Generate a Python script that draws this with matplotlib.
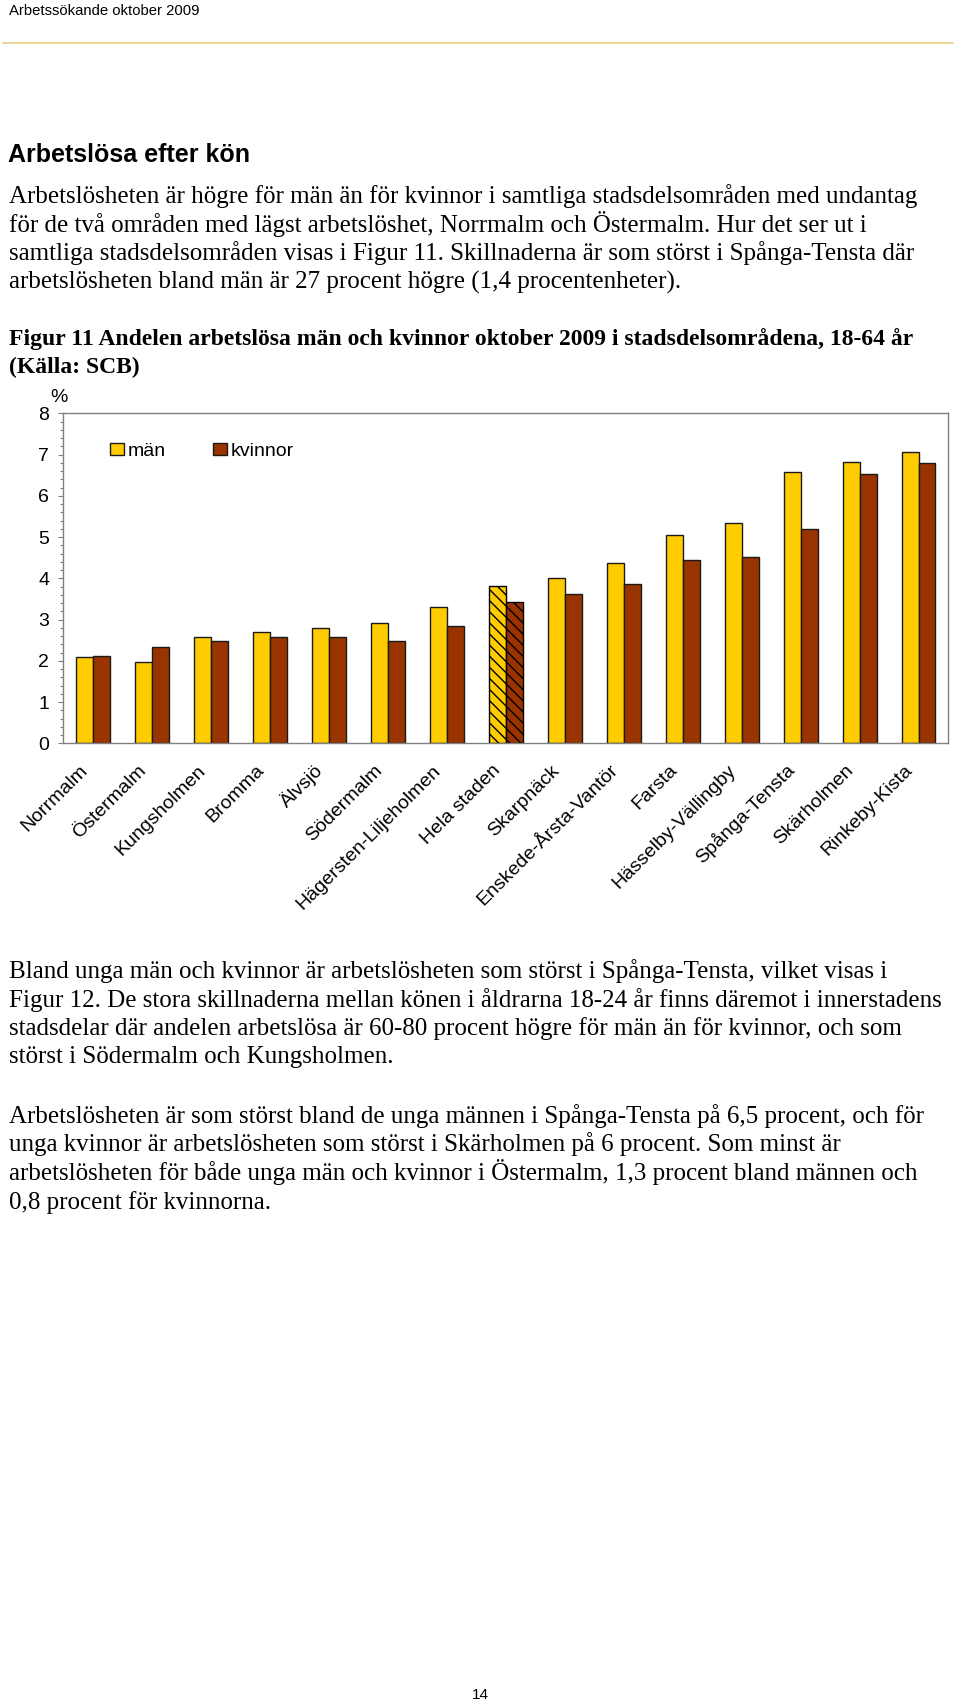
import matplotlib.pyplot as plt
import numpy as np
from matplotlib.patches import Patch
from matplotlib.ticker import MultipleLocator
from matplotlib.transforms import ScaledTranslation

# ----------------------------------------------------------------------------
# Data
# ----------------------------------------------------------------------------
omraden = ['Norrmalm', 'Östermalm', 'Kungsholmen', 'Bromma', 'Älvsjö',
           'Södermalm', 'Hägersten-Liljeholmen', 'Hela staden', 'Skarpnäck',
           'Enskede-Årsta-Vantör', 'Farsta', 'Hässelby-Vällingby',
           'Spånga-Tensta', 'Skärholmen', 'Rinkeby-Kista']
man = [2.10, 1.98, 2.58, 2.69, 2.80, 2.92, 3.31, 3.81, 4.01, 4.38,
       5.06, 5.35, 6.58, 6.83, 7.06]
kvinnor = [2.12, 2.33, 2.48, 2.58, 2.57, 2.48, 2.84, 3.42, 3.62, 3.85,
           4.45, 4.52, 5.19, 6.52, 6.80]
markerat = 'Hela staden'
y_ticks = [0, 1, 2, 3, 4, 5, 6, 7, 8]

header = 'Arbetssökande oktober 2009'
rubrik = 'Arbetslösa efter kön'
stycke1 = [
    'Arbetslösheten är högre för män än för kvinnor i samtliga stadsdelsområden med undantag',
    'för de två områden med lägst arbetslöshet, Norrmalm och Östermalm. Hur det ser ut i',
    'samtliga stadsdelsområden visas i Figur 11. Skillnaderna är som störst i Spånga-Tensta där',
    'arbetslösheten bland män är 27 procent högre (1,4 procentenheter).',
]
figurtitel = [
    'Figur 11 Andelen arbetslösa män och kvinnor oktober 2009 i stadsdelsområdena, 18-64 år',
    '(Källa: SCB)',
]
stycke2 = [
    'Bland unga män och kvinnor är arbetslösheten som störst i Spånga-Tensta, vilket visas i',
    'Figur 12. De stora skillnaderna mellan könen i åldrarna 18-24 år finns däremot i innerstadens',
    'stadsdelar där andelen arbetslösa är 60-80 procent högre för män än för kvinnor, och som',
    'störst i Södermalm och Kungsholmen.',
]
stycke3 = [
    'Arbetslösheten är som störst bland de unga männen i Spånga-Tensta på 6,5 procent, och för',
    'unga kvinnor är arbetslösheten som störst i Skärholmen på 6 procent. Som minst är',
    'arbetslösheten för både unga män och kvinnor i Östermalm, 1,3 procent bland männen och',
    '0,8 procent för kvinnorna.',
]
sidnummer = '14'

# ----------------------------------------------------------------------------
# Page
# ----------------------------------------------------------------------------
W, H = 960, 1702
SANS = 'Liberation Sans'
SERIF = 'Liberation Serif'
MAN_COL = '#FFCC00'
KV_COL = '#993300'
GRAY = '#808080'

fig = plt.figure(figsize=(W / 100, H / 100), dpi=100)


def put(x, y, s, **kw):
    # x, y in page pixels (y from top), baseline anchored
    kw.setdefault('va', 'baseline')
    fig.text(x / W, 1 - y / H, s, **kw)


def lines(x, y0, step, rows, **kw):
    for i, r in enumerate(rows):
        put(x, y0 + i * step, r, **kw)


put(9, 15, header, family=SANS, fontsize=10.7)
fig.add_artist(plt.Line2D([3 / W, 953 / W], [1 - 42.7 / H] * 2,
                          color='#E8CF85', lw=1.2))
put(8, 161.5, rubrik, family=SANS, fontsize=18, fontweight='bold')
lines(9, 203.5, 28.2, stycke1, family=SERIF, fontsize=18)
lines(9, 344.5, 28.4, figurtitel, family=SERIF, fontsize=17, fontweight='bold')
lines(9, 978.3, 28.4, stycke2, family=SERIF, fontsize=18)
lines(9, 1123, 28.5, stycke3, family=SERIF, fontsize=18)
put(480, 1699, sidnummer, family=SANS, fontsize=11, ha='center')

# ----------------------------------------------------------------------------
# Chart
# ----------------------------------------------------------------------------
ax = fig.add_axes([63.3 / W, 1 - 743.3 / H, 884.7 / W, 330 / H])
x = np.arange(len(omraden))
bw = 0.288

bars_m = ax.bar(x - bw / 2, man, bw, color=MAN_COL, edgecolor='#1a1a1a', linewidth=1)
bars_k = ax.bar(x + bw / 2, kvinnor, bw, color=KV_COL, edgecolor='#1a1a1a', linewidth=1)

i = omraden.index(markerat)
plt.rcParams['hatch.linewidth'] = 1.4
for b in (bars_m[i], bars_k[i]):
    b.set_hatch('\\\\\\')
    b.set_edgecolor('black')

ax.set_xlim(-0.5, len(omraden) - 0.5)
ax.set_ylim(0, 8)
ax.set_yticks(y_ticks)
ax.yaxis.set_minor_locator(MultipleLocator(0.2))
for s in ax.spines.values():
    s.set_color(GRAY)
    s.set_linewidth(1)

ax.tick_params(axis='y', which='major', length=3.6, width=0.8, color=GRAY,
               labelsize=14, pad=6.5)
ax.tick_params(axis='y', which='minor', length=2.2, width=0.8, color=GRAY)
for t in ax.get_yticklabels():
    t.set_family(SANS)

ax.set_xticks(x)
ax.set_xticklabels(omraden, rotation=45, ha='right', va='baseline',
                   rotation_mode='anchor', family=SANS, fontsize=14)
ax.tick_params(axis='x', length=0, pad=20)
shift = ScaledTranslation(-5 / 100, 0, fig.dpi_scale_trans)
for t in ax.get_xticklabels():
    t.set_transform(t.get_transform() + shift)

put(58.5, 402, '%', family=SANS, fontsize=14, ha='center')

handles = [Patch(facecolor=MAN_COL, edgecolor='#1a1a1a', label='män'),
           Patch(facecolor=KV_COL, edgecolor='#1a1a1a', label='kvinnor')]
leg = ax.legend(handles=handles, ncol=2, loc='center left',
                bbox_to_anchor=(0.0528, 0.885), frameon=False,
                borderpad=0, borderaxespad=0, handletextpad=0.2,
                columnspacing=2.4, handlelength=0.72, handleheight=0.62,
                prop={'family': SANS, 'size': 14})

fig.savefig('out.png', dpi=100, facecolor='white')
